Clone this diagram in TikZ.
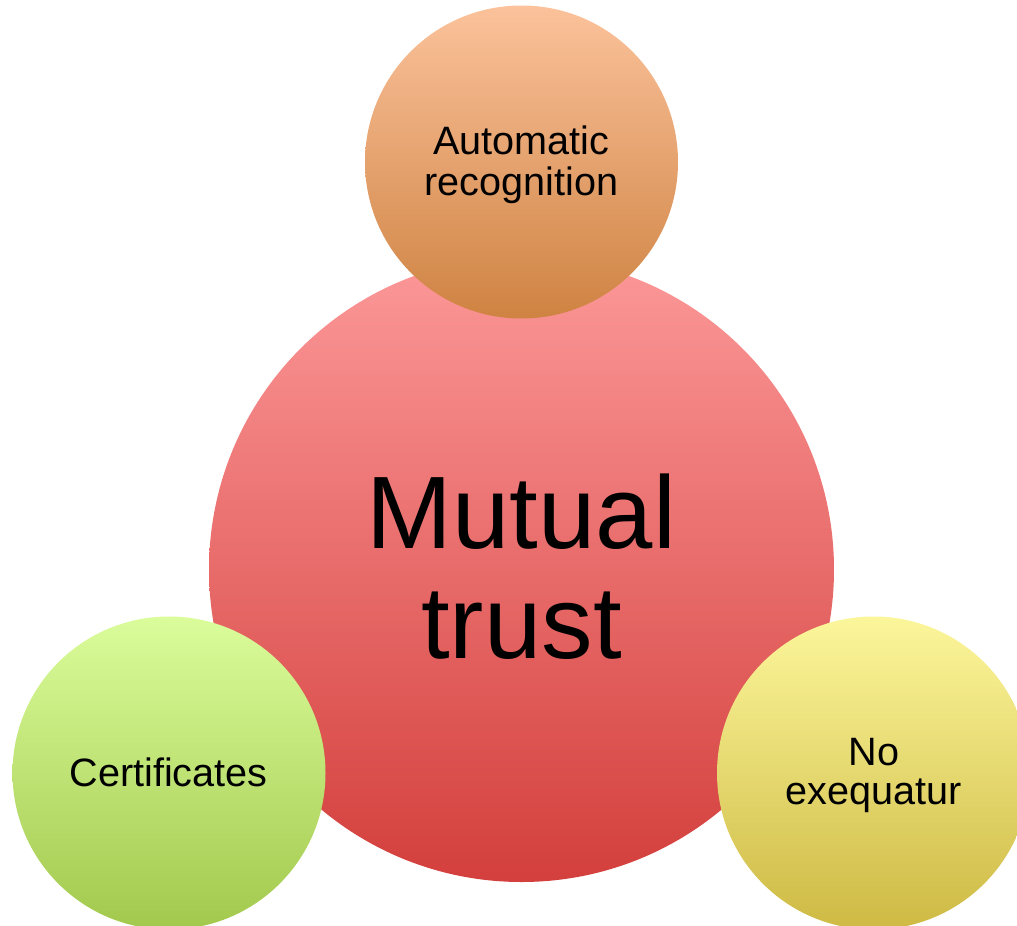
\documentclass[tikz,border=0pt]{standalone}
\usepackage{fontspec}
\setmainfont{Liberation Sans}
\definecolor{redTop}{HTML}{FC9898}
\definecolor{redBot}{HTML}{D33F3C}
\definecolor{orTop}{HTML}{FBC29B}
\definecolor{orBot}{HTML}{CF8342}
\definecolor{grTop}{HTML}{DBFC9B}
\definecolor{grBot}{HTML}{A2C94D}
\definecolor{yeTop}{HTML}{FCF69B}
\definecolor{yeBot}{HTML}{CEBA44}
\begin{document}
\begin{tikzpicture}[x=1pt,y=-1pt,
  bubble/.style={circle,inner sep=0pt,minimum size=313pt,draw=none},
  hub/.style={circle,inner sep=0pt,minimum size=625pt,draw=none},
  smalltext/.style={anchor=base,inner sep=0pt,font=\fontsize{39.6}{41}\selectfont},
  bigtext/.style={anchor=base,inner sep=0pt,font=\fontsize{103}{110}\selectfont}]
\useasboundingbox (0,0) rectangle (1017,926);
\clip (0,0) rectangle (1017,926);
% central circle and the three satellites
\node[hub,top color=redTop,bottom color=redBot] (hubc) at (521.5,569.5) {};
\node[bubble,top color=orTop,bottom color=orBot] (auto) at (521.5,162) {};
\node[bubble,top color=grTop,bottom color=grBot] (cert) at (169,773) {};
\node[bubble,top color=yeTop,bottom color=yeBot] (exeq) at (873.5,773) {};
% labels
\node[bigtext] (mt1) at (521.5,548) {Mutual};
\node[bigtext] (mt2) at (521.5,658) {trust};
\node[smalltext] (ar1) at (521.5,154.5) {Automatic};
\node[smalltext] (ar2) at (521.5,195) {recognition};
\node[smalltext] (ce1) at (168.5,786) {Certificates};
\node[smalltext] (ne1) at (874,765) {No};
\node[smalltext] (ne2) at (874,804) {exequatur};
\end{tikzpicture}
\end{document}
